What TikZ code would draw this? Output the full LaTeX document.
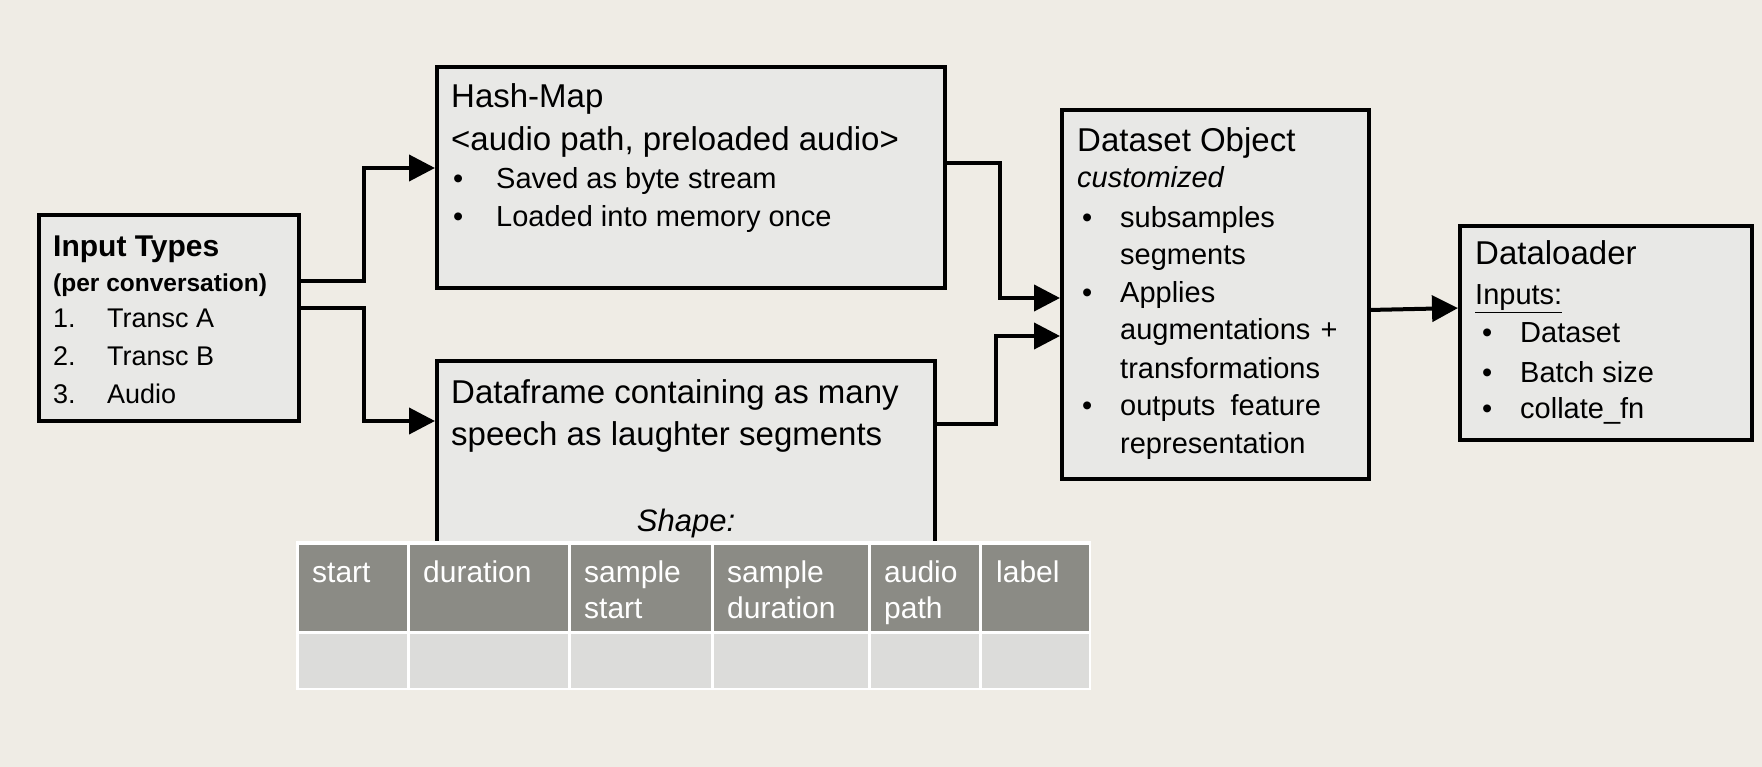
\documentclass[tikz,border=0pt]{standalone}
\usepackage{fontspec}
\setmainfont{Liberation Sans}
\usetikzlibrary{arrows.meta}
\definecolor{bgc}{HTML}{EFECE5}
\definecolor{boxc}{HTML}{E8E8E6}
\definecolor{hdrc}{HTML}{8B8B85}
\definecolor{rowc}{HTML}{DCDCDA}
\begin{document}
\begin{tikzpicture}[x=1pt,y=-1pt,
  box/.style={draw=black,line width=4.5pt,fill=boxc,rectangle,inner sep=0pt,outer sep=0pt,anchor=north west},
  conn/.style={line width=4pt,shorten >=2pt,-{Triangle[length=26pt,width=26pt]}},
  txt/.style={anchor=base west,inner sep=0pt,font=\fontsize{29}{35}\selectfont},
  ttl/.style={anchor=base west,inner sep=0pt,font=\fontsize{33}{40}\selectfont},
  itx/.style={anchor=base west,inner sep=0pt,font=\fontsize{29}{35}\selectfont\itshape},
  inb/.style={anchor=base west,inner sep=0pt,font=\fontsize{27}{33}\selectfont},
  hdt/.style={anchor=base west,inner sep=0pt,text=white,font=\fontsize{30}{36}\selectfont}]
\useasboundingbox (0,0) rectangle (1762,767);
\fill[bgc] (0,0) rectangle (1762,767);

% boxes
\node[box,minimum width=260pt,minimum height=206pt] (inp) at (39,215) {};
\node[box,minimum width=508pt,minimum height=221pt] (hm) at (437,67) {};
\node[box,minimum width=498pt,minimum height=240pt] (df) at (437,361) {};
\node[box,minimum width=307pt,minimum height=369pt] (ds) at (1062,110) {};
\node[box,minimum width=292pt,minimum height=214pt] (dl) at (1460,226) {};

% Input types text
\node[anchor=base west,inner sep=0pt,font=\fontsize{30}{36}\selectfont\bfseries] (i1) at (53,257) {Input Types};
\node[anchor=base west,inner sep=0pt,font=\fontsize{24.5}{30}\selectfont\bfseries] (i2) at (53,292) {(per conversation)};
\node[inb] (i3a) at (53,328) {1.};
\node[inb] (i3b) at (107,328) {Transc A};
\node[inb] (i4a) at (53,365) {2.};
\node[inb] (i4b) at (107,365) {Transc B};
\node[inb] (i5a) at (53,403) {3.};
\node[inb] (i5b) at (107,403) {Audio};

% Hash-Map text
\node[ttl] (h1) at (451,108) {Hash-Map};
\node[ttl] (h2) at (451,151) {<audio path, preloaded audio>};
\node[txt] (h3a) at (453,189) {•};
\node[txt] (h3b) at (496,189) {Saved as byte stream};
\node[txt] (h4a) at (453,227) {•};
\node[txt] (h4b) at (496,227) {Loaded into memory once};

% Dataframe text
\node[ttl] (d1) at (451,403) {Dataframe containing as many};
\node[ttl] (d2) at (451,445) {speech as laughter segments};

% Dataset text
\node[ttl] (s1) at (1077,152) {Dataset Object};
\node[itx] (s2) at (1077,188) {customized};
\node[txt] (s3a) at (1082,228) {•};
\node[txt] (s3b) at (1120,228) {subsamples};
\node[txt] (s4) at (1120,265) {segments};
\node[txt] (s5a) at (1082,303) {•};
\node[txt] (s5b) at (1120,303) {Applies};
\node[txt] (s6) at (1120,340) {augmentations\hspace{0.35em}+};
\node[txt] (s7) at (1120,378) {transformations};
\node[txt] (s8a) at (1082,415) {•};
\node[txt] (s8b) at (1120,415) {outputs\hspace{0.25em} feature};
\node[txt] (s9) at (1120,453) {representation};

% Dataloader text
\node[ttl] (l1) at (1475,265) {Dataloader};
\node[txt] (l2) at (1475,305) {\underline{Inputs:}};
\node[txt] (l3a) at (1482,343) {•};
\node[txt] (l3b) at (1520,343) {Dataset};
\node[txt] (l4a) at (1482,382) {•};
\node[txt] (l4b) at (1520,382) {Batch size};
\node[txt] (l5a) at (1482,418) {•};
\node[txt] (l5b) at (1520,418) {collate\_fn};

% table
\node[anchor=base,inner sep=0pt,font=\fontsize{31}{36}\selectfont\itshape] (shp) at (686,531) {Shape:};
\fill[white] (296,541) rectangle (1091,690);
\foreach \i/\a/\b in {1/297/408, 2/408/569, 3/569/712, 4/712/869, 5/869/980, 6/980/1090} {
  \node[fill=hdrc,inner sep=0pt,outer sep=0pt,anchor=north west,minimum width=\b-\a-3,minimum height=86pt] (hc\i) at (\a+1.5,544.5) {};
  \node[fill=rowc,inner sep=0pt,outer sep=0pt,anchor=north west,minimum width=\b-\a-3,minimum height=53.5pt] (rc\i) at (\a+1.5,634) {};
}
\node[hdt] (c1) at (312,582) {start};
\node[hdt] (c2) at (423,582) {duration};
\node[hdt] (c3a) at (584,582) {sample};
\node[hdt] (c3b) at (584,618) {start};
\node[hdt] (c4a) at (727,582) {sample};
\node[hdt] (c4b) at (727,618) {duration};
\node[hdt] (c5a) at (884,582) {audio};
\node[hdt] (c5b) at (884,618) {path};
\node[hdt] (c6) at (996,582) {label};

% connectors
\draw[conn] ([yshift=37pt]inp.east) -- ++(65,0) |- ([yshift=9.5pt]hm.west);
\draw[conn] ([yshift=10pt]inp.east) -- ++(65,0) |- ([yshift=60pt]df.west);
\draw[conn] ([yshift=14.5pt]hm.east) -- ++(55,0) |- ([yshift=-3.5pt]ds.west);
\draw[conn] ([yshift=57pt]df.east) -- ++(61,0) |- ([yshift=-41.5pt]ds.west);
\draw[conn] ([yshift=-15.5pt]ds.east) -- ([yshift=25pt]dl.west);
\end{tikzpicture}
\end{document}
